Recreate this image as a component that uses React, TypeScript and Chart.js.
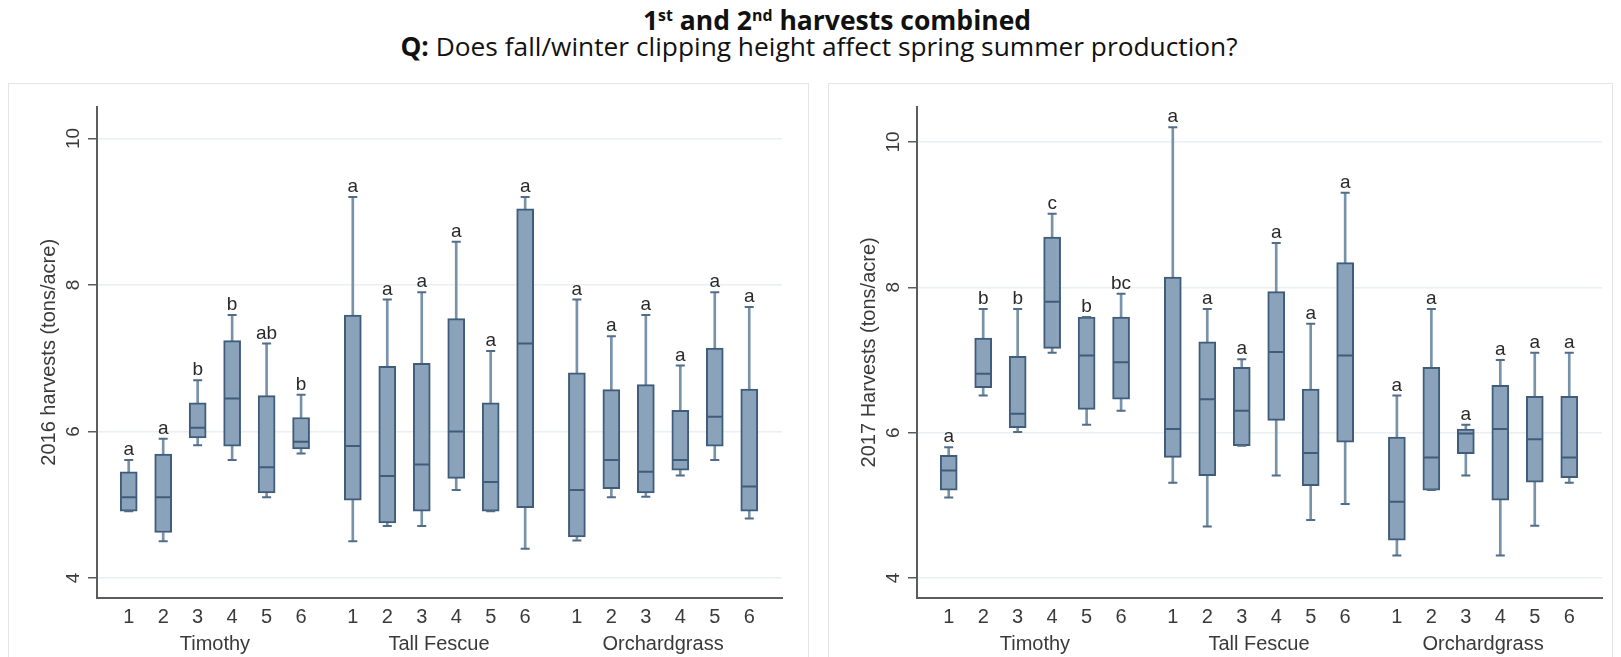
import React, { useEffect, useRef } from "react";
import { Chart, registerables } from "chart.js";

Chart.register(...registerables);

// ---------- shared categories ----------
const treatments = ["1", "2", "3", "4", "5", "6"];
const groups = ["Timothy", "Tall Fescue", "Orchardgrass"];
const xPositions = [1, 2, 3, 4, 5, 6, 7.5, 8.5, 9.5, 10.5, 11.5, 12.5, 14, 15, 16, 17, 18, 19];
const groupCenters = [3.5, 10, 16.5];
const yTickValues = [4, 6, 8, 10];

// ---------- 2016 harvests ----------
const min2016 = [4.91, 4.5, 5.81, 5.61, 5.1, 5.7, 4.5, 4.71, 4.71, 5.2, 4.91, 4.4, 4.51, 5.1, 5.11, 5.4, 5.61, 4.81];
const q1_2016 = [4.91, 4.62, 5.91, 5.8, 5.16, 5.76, 5.06, 4.75, 4.91, 5.36, 4.91, 4.96, 4.56, 5.22, 5.16, 5.47, 5.8, 4.91];
const med2016 = [5.1, 5.1, 6.05, 6.45, 5.51, 5.86, 5.8, 5.39, 5.55, 6.0, 5.31, 7.2, 5.2, 5.61, 5.45, 5.61, 6.2, 5.25];
const q3_2016 = [5.45, 5.69, 6.39, 7.24, 6.49, 6.19, 7.59, 6.89, 6.93, 7.54, 6.39, 9.04, 6.8, 6.57, 6.64, 6.29, 7.14, 6.58];
const max2016 = [5.61, 5.9, 6.7, 7.59, 7.2, 6.5, 9.2, 7.8, 7.9, 8.59, 7.1, 9.2, 7.8, 7.3, 7.59, 6.9, 7.9, 7.7];
const letters2016 = ["a", "a", "b", "b", "ab", "b", "a", "a", "a", "a", "a", "a", "a", "a", "a", "a", "a", "a"];

// ---------- 2017 harvests ----------
const min2017 = [5.11, 6.51, 6.01, 7.1, 6.11, 6.3, 5.31, 4.71, 5.82, 5.41, 4.8, 5.02, 4.31, 5.21, 5.41, 4.31, 4.72, 5.31];
const q1_2017 = [5.21, 6.62, 6.07, 7.16, 6.32, 6.46, 5.66, 5.41, 5.82, 6.17, 5.27, 5.87, 4.52, 5.21, 5.71, 5.07, 5.32, 5.38];
const med2017 = [5.48, 6.81, 6.26, 7.8, 7.06, 6.97, 6.05, 6.46, 6.3, 7.11, 5.72, 7.06, 5.05, 5.66, 5.99, 6.05, 5.91, 5.66];
const q3_2017 = [5.69, 7.3, 7.05, 8.69, 7.59, 7.59, 8.14, 7.25, 6.9, 7.94, 6.6, 8.34, 5.94, 6.9, 6.05, 6.65, 6.5, 6.5];
const max2017 = [5.8, 7.7, 7.7, 9.01, 7.59, 7.91, 10.2, 7.7, 7.01, 8.61, 7.5, 9.3, 6.51, 7.7, 6.11, 7.0, 7.1, 7.1];
const letters2017 = ["a", "b", "b", "c", "b", "bc", "a", "a", "a", "a", "a", "a", "a", "a", "a", "a", "a", "a"];

const FONT = "'Liberation Sans', Arial, Helvetica, sans-serif";
const BOX_FILL = "#8aa2ba";
const BOX_LINE = "#3f5c7a";
const WHISKER = "#7892aa";
const CAP = "#506c87";
const AXIS = "#5c5c5c";
const TEXT = "#3a3a3a";

type Panel = {
  min: number[];
  q1: number[];
  med: number[];
  q3: number[];
  max: number[];
  letters: string[];
  yTitle: string;
  yMin: number;
  yMax: number;
  padRight: number;
};

function makeConfig(p: Panel): any {
  const boxes = xPositions.map((x, i) => ({ x, y: [p.q1[i], p.q3[i]] }));
  const upper = xPositions.map((x, i) => ({ x, y: [p.q3[i], p.max[i]] }));
  const lower = xPositions.map((x, i) => ({ x, y: [p.min[i], p.q1[i]] }));
  const medians = xPositions.map((x, i) => ({ x, y: p.med[i] }));
  const caps = [
    ...xPositions.map((x, i) => ({ x, y: p.max[i] })),
    ...xPositions.map((x, i) => ({ x, y: p.min[i] })),
  ];

  const annotate = {
    id: "boxAnnotations",
    afterDraw(chart: any) {
      const ctx = chart.ctx;
      const xs = chart.scales.x;
      const ys = chart.scales.y;
      ctx.save();
      // significance letters above the upper whisker caps
      ctx.fillStyle = "#2a2a2a";
      ctx.font = `19px ${FONT}`;
      ctx.textAlign = "center";
      ctx.textBaseline = "alphabetic";
      xPositions.forEach((x, i) => {
        ctx.fillText(p.letters[i], xs.getPixelForValue(x), ys.getPixelForValue(p.max[i]) - 5);
      });
      // rotated y tick labels
      ctx.fillStyle = TEXT;
      ctx.font = `19px ${FONT}`;
      ctx.textAlign = "center";
      ctx.textBaseline = "middle";
      ys.ticks.forEach((t: any) => {
        const y = ys.getPixelForValue(t.value);
        ctx.save();
        ctx.translate(ys.right - 23, y);
        ctx.rotate(-Math.PI / 2);
        ctx.fillText(String(t.value), 0, 0);
        ctx.restore();
      });
      ctx.restore();
    },
  };

  return {
    type: "bar",
    data: {
      datasets: [
        {
          type: "bar",
          data: upper,
          backgroundColor: WHISKER,
          borderWidth: 0,
          barThickness: 2,
          grouped: false,
          order: 4,
        },
        {
          type: "bar",
          data: lower,
          backgroundColor: WHISKER,
          borderWidth: 0,
          barThickness: 2,
          grouped: false,
          order: 4,
        },
        {
          type: "bar",
          data: boxes,
          backgroundColor: BOX_FILL,
          borderColor: BOX_LINE,
          borderWidth: 2,
          borderSkipped: false,
          barThickness: 17,
          grouped: false,
          order: 3,
        },
        {
          type: "scatter",
          data: medians,
          pointStyle: "line",
          radius: 7.5,
          borderColor: BOX_LINE,
          borderWidth: 2,
          order: 1,
        },
        {
          type: "scatter",
          data: caps,
          pointStyle: "line",
          radius: 4.5,
          borderColor: CAP,
          borderWidth: 2,
          order: 2,
        },
      ],
    },
    options: {
      animation: false,
      responsive: false,
      devicePixelRatio: 1,
      events: [],
      layout: { padding: { top: 24, right: p.padRight, left: 0, bottom: 0 } },
      plugins: { legend: { display: false }, tooltip: { enabled: false }, title: { display: false } },
      scales: {
        x: {
          type: "linear",
          min: 0.08,
          max: 19.95,
          offset: false,
          grid: { display: true, color: "rgba(0,0,0,0)", drawTicks: false, offset: false },
          border: { display: true, color: AXIS, width: 2 },
          afterBuildTicks: (s: any) => {
            s.ticks = xPositions.map((v) => ({ value: v }));
          },
          ticks: {
            autoSkip: false,
            minRotation: 0,
            maxRotation: 0,
            padding: 8,
            color: TEXT,
            font: { family: FONT, size: 20 },
            callback: (_v: any, i: number) => treatments[i % 6],
          },
          afterFit: (s: any) => {
            s.height = 27;
          },
        },
        x2: {
          type: "linear",
          position: "bottom",
          weight: 1,
          min: 0.08,
          max: 19.95,
          offset: false,
          grid: { display: false, drawTicks: false },
          border: { display: false },
          afterBuildTicks: (s: any) => {
            s.ticks = groupCenters.map((v) => ({ value: v }));
          },
          ticks: {
            autoSkip: false,
            minRotation: 0,
            maxRotation: 0,
            padding: 8,
            color: TEXT,
            font: { family: FONT, size: 20 },
            callback: (_v: any, i: number) => groups[i],
          },
          afterFit: (s: any) => {
            s.height = 32.3;
          },
        },
        y: {
          type: "linear",
          min: p.yMin,
          max: p.yMax,
          beginAtZero: false,
          afterBuildTicks: (s: any) => {
            s.ticks = yTickValues.map((v) => ({ value: v }));
          },
          grid: {
            color: "#eaeff3",
            lineWidth: 1.5,
            drawTicks: true,
            tickLength: 9,
            tickColor: AXIS,
            tickWidth: 1.5,
          },
          border: { display: true, color: AXIS, width: 2 },
          ticks: { display: false },
          title: {
            display: true,
            text: p.yTitle,
            color: TEXT,
            font: { family: FONT, size: 20 },
            padding: { top: 29, bottom: 0 },
          },
          afterFit: (s: any) => {
            s.width = 89;
          },
        },
      },
    },
    plugins: [annotate],
  };
}

function BoxChart({ panel, width, height }: { panel: Panel; width: number; height: number }) {
  const ref = useRef<HTMLCanvasElement | null>(null);
  useEffect(() => {
    if (!ref.current) return;
    const chart = new Chart(ref.current, makeConfig(panel));
    return () => chart.destroy();
  }, [panel]);
  return <canvas ref={ref} width={width} height={height} style={{ width, height, display: "block" }} />;
}

const panel2016: Panel = {
  min: min2016,
  q1: q1_2016,
  med: med2016,
  q3: q3_2016,
  max: max2016,
  letters: letters2016,
  yTitle: "2016 harvests (tons/acre)",
  yMin: 3.73,
  yMax: 10.43,
  padRight: 27,
};

const panel2017: Panel = {
  min: min2017,
  q1: q1_2017,
  med: med2017,
  q3: q3_2017,
  max: max2017,
  letters: letters2017,
  yTitle: "2017 Harvests (tons/acre)",
  yMin: 3.73,
  yMax: 10.48,
  padRight: 11,
};

export default function App() {
  const titleFont = "'Open Sans', 'Noto Sans', sans-serif";
  const supStyle = { fontSize: "0.6em", lineHeight: 0, verticalAlign: "0.55em" } as const;
  return (
    <div
      style={{
        position: "fixed",
        left: 0,
        top: 0,
        width: 1621,
        height: 657,
        background: "#ffffff",
        overflow: "hidden",
      }}
    >
      <div
        style={{
          position: "absolute",
          left: 837,
          top: 5,
          transform: "translateX(-50%)",
          whiteSpace: "nowrap",
          fontFamily: titleFont,
          fontWeight: 700,
          fontSize: 26.5,
          lineHeight: "30px",
          color: "#111",
        }}
      >
        1<span style={supStyle}>st</span> and 2<span style={supStyle}>nd</span> harvests combined
      </div>
      <div
        style={{
          position: "absolute",
          left: 819,
          top: 31,
          transform: "translateX(-50%)",
          whiteSpace: "nowrap",
          fontFamily: titleFont,
          fontSize: 26.3,
          lineHeight: "30px",
          color: "#111",
        }}
      >
        <b>Q:</b> Does fall/winter clipping height affect spring summer production?
      </div>
      <div
        style={{
          position: "absolute",
          left: 8,
          top: 83,
          width: 801,
          height: 600,
          boxSizing: "border-box",
          border: "1px solid #e2e6ea",
        }}
      />
      <div
        style={{
          position: "absolute",
          left: 828,
          top: 83,
          width: 785,
          height: 600,
          boxSizing: "border-box",
          border: "1px solid #e2e6ea",
        }}
      />
      <div style={{ position: "absolute", left: 8, top: 83 }}>
        <BoxChart panel={panel2016} width={801} height={574} />
      </div>
      <div style={{ position: "absolute", left: 828, top: 83 }}>
        <BoxChart panel={panel2017} width={785} height={574} />
      </div>
    </div>
  );
}
